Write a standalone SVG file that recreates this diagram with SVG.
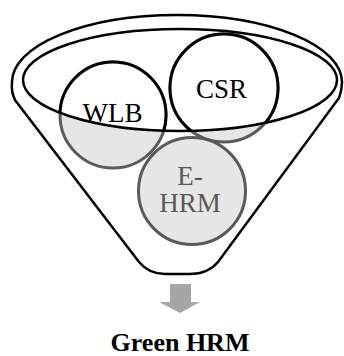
<svg xmlns="http://www.w3.org/2000/svg" width="344" height="356" viewBox="0 0 344 356">
<style>
.line{fill:none;stroke:#000;stroke-width:2.5}
.gc{fill:#e6e6e6;stroke:#5a5a5a;stroke-width:3}
.wc{fill:#fff;stroke:#000;stroke-width:3}
.t{font-family:"Liberation Serif","Times New Roman",serif;font-size:27px;text-anchor:middle}
</style>
<defs>
<clipPath id="inner"><ellipse cx="180" cy="80" rx="157" ry="51"/></clipPath>
</defs>
<rect width="344" height="356" fill="#fff"/>
<g id="funnel">
<path class="line" d="M15,100 Q11,92 12,82 A165,67 0 0 1 342,82 Q342,90 339,98 L218,262 Q208,274 190,274 L165,274 Q149,274 139,262 Z"/>
</g>
<g id="WLB">
<circle class="gc" cx="113" cy="115" r="53"/>
<circle class="wc" cx="113" cy="115" r="53" clip-path="url(#inner)"/>
</g>
<g id="CSR">
<circle class="gc" cx="224" cy="88" r="54"/>
<circle class="wc" cx="224" cy="88" r="54" clip-path="url(#inner)"/>
</g>
<g id="EHRM">
<circle class="gc" cx="192" cy="191" r="53.5"/>
</g>
<ellipse class="line" cx="180" cy="80" rx="157" ry="51" stroke-width="2"/>
<text class="t" x="112.5" y="122" fill="#000">WLB</text>
<text class="t" x="221.5" y="98" fill="#000">CSR</text>
<text class="t" x="190" y="185" fill="#595959">E-</text>
<text class="t" x="190" y="212" fill="#595959">HRM</text>
<g id="connectors">
<path d="M170,284 H191 V302 H200 L180,313 L159,302 H170 Z" fill="#a6a6a6"/>
</g>
<g id="label">
<text x="180" y="351" font-family="'Liberation Serif','Times New Roman',serif" font-size="26" font-weight="bold" text-anchor="middle" fill="#000">Green HRM</text>
</g>
</svg>
